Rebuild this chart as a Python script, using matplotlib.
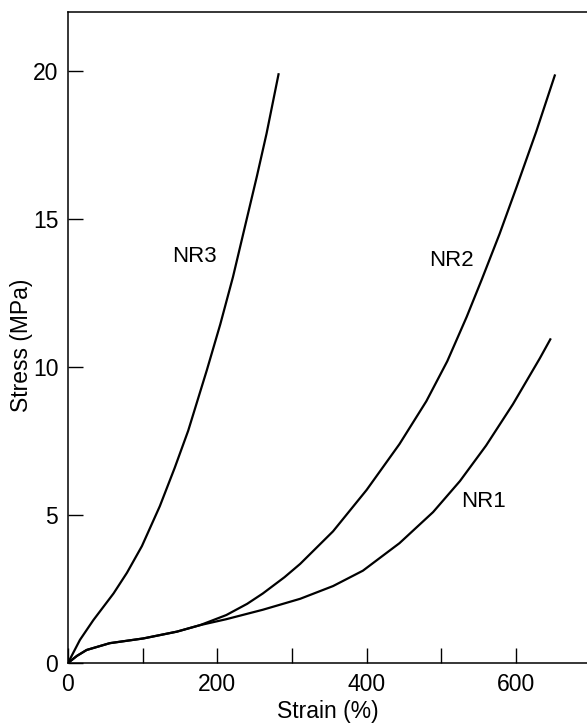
import matplotlib.pyplot as plt
from matplotlib.ticker import MultipleLocator

# values
nr3_strain = [0, 16, 34, 61, 79, 99, 123, 143, 161, 186, 204, 221, 237, 253, 266, 282]
nr3_stress = [0, 0.78, 1.45, 2.35, 3.05, 3.95, 5.3, 6.6, 7.85, 9.9, 11.45, 13.05, 14.75, 16.45, 17.9, 19.9]

nr2_strain = [0, 12, 25, 56, 101, 146, 177, 212, 240, 261, 290, 311, 355, 400, 444, 480, 508, 534, 554, 578, 601, 627, 652]
nr2_stress = [0, 0.24, 0.44, 0.67, 0.83, 1.06, 1.28, 1.62, 2.0, 2.35, 2.9, 3.35, 4.45, 5.85, 7.4, 8.85, 10.2, 11.7, 12.95, 14.5, 16.1, 17.95, 19.86]

nr1_strain = [0, 12, 25, 56, 101, 146, 177, 212, 261, 311, 355, 395, 444, 489, 525, 560, 596, 632, 646]
nr1_stress = [0, 0.24, 0.44, 0.67, 0.83, 1.06, 1.28, 1.48, 1.8, 2.17, 2.6, 3.12, 4.05, 5.1, 6.15, 7.35, 8.75, 10.3, 10.94]

labels = ["NR3", "NR2", "NR1"]
label_pos = [(170, 13.75), (513, 13.6), (557, 5.45)]

plt.rcParams['font.family'] = ['Liberation Sans', 'DejaVu Sans']

fig = plt.figure(figsize=(5.87, 7.28), dpi=100)
ax = fig.add_axes([0.1158, 0.0893, 0.884, 0.894])

for xs, ys in [(nr3_strain, nr3_stress), (nr2_strain, nr2_stress), (nr1_strain, nr1_stress)]:
    ax.plot(xs, ys, color='black', linewidth=1.6, solid_joinstyle='round')

for name, (x, y) in zip(labels, label_pos):
    ax.text(x, y, name, fontsize=16, ha='center', va='center')

ax.set_xlim(0, 695)
ax.set_ylim(0, 22)
ax.xaxis.set_major_locator(MultipleLocator(200))
ax.xaxis.set_minor_locator(MultipleLocator(100))
ax.yaxis.set_major_locator(MultipleLocator(5))
ax.tick_params(which='both', direction='in', length=11, width=1.0, labelsize=16.5, pad=7)
ax.spines['right'].set_visible(False)
for s in ['left', 'bottom', 'top']:
    ax.spines[s].set_linewidth(1.1)

ax.set_xlabel('Strain (%)', fontsize=16.5, va='center')
ax.set_ylabel('Stress (MPa)', fontsize=16.5, va='center')
ax.xaxis.set_label_coords(0.5, -0.075)
ax.yaxis.set_label_coords(-0.09, 0.488)

fig.savefig('out.png', dpi=100)
